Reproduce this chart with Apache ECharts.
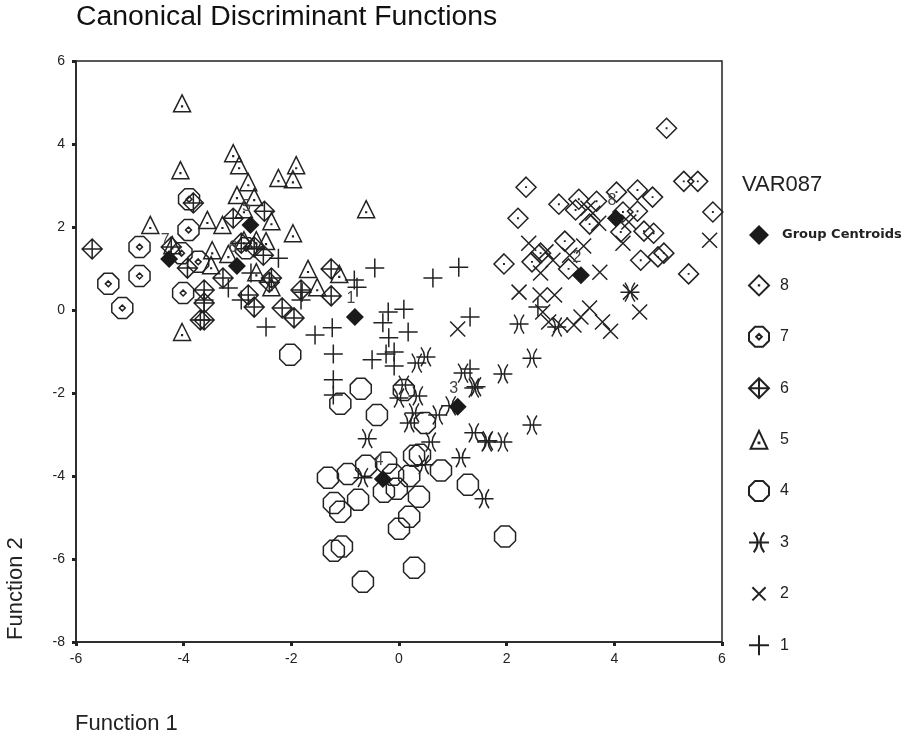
<!DOCTYPE html>
<html><head><meta charset="utf-8">
<style>html,body{margin:0;padding:0;background:#fff}#c{width:912px;height:736px}</style>
<script src="https://cdn.jsdelivr.net/npm/echarts@6/dist/echarts.min.js"></script>
</head><body><div id="c"></div>
<script>
const group1=[[-2.24,1.25],[-3.17,.53],[-2.93,.24],[-1.82,.24],[-3.62,.24],[-2.75,.89],[-2.47,-.41],[-1.56,-.6],[-1.24,-.43],[-.83,.72],[-.78,.55],[-.2,-.05],[.09,.02],[1.32,-.17],[-.3,-.31],[.17,-.53],[-.19,-.67],[-1.22,-1.06],[-.5,-1.2],[-.24,-1.06],[-.09,-1.01],[-.09,-1.35],[-1.22,-1.68],[-1.22,-2.05],[1.32,-1.42],[-.45,1.01],[.63,.77],[1.11,1.03],[2.58,.07],[-1.8,.43]];
const group2=[[5.77,1.68],[2.41,1.61],[2.73,1.4],[3.43,1.54],[3.17,1.32],[4.16,1.61],[3.71,2.09],[4.27,2.12],[3.6,2.33],[3.51,2.45],[2.63,.89],[2.23,.43],[2.62,.36],[2.89,.36],[3.73,.91],[4.3,.43],[4.47,-.05],[2.67,-.05],[3.54,.05],[3.38,-.17],[3.25,-.36],[3.78,-.29],[3.93,-.51],[2.86,1.2],[1.09,-.46],[3,-.36],[2.78,-.29]];
const group3=[[2.23,-.34],[2.93,-.41],[.5,-1.13],[.33,-1.28],[2.47,-1.16],[1.93,-1.54],[1.19,-1.52],[1.43,-1.85],[1.39,-1.88],[.09,-1.81],[0,-2.12],[.35,-2.07],[.28,-2.48],[.72,-2.53],[.19,-2.72],[.96,-2.31],[2.47,-2.77],[-.59,-3.1],[.59,-3.18],[1.39,-2.96],[1.63,-3.18],[1.65,-3.15],[1.93,-3.18],[1.15,-3.56],[.46,-3.73],[1.58,-4.55],[-.67,-4.04],[4.29,.43]];
const group4=[[-2.02,-1.08],[-.71,-1.9],[-1.09,-2.26],[-.41,-2.53],[.09,-1.93],[.48,-2.72],[-.61,-3.75],[-.24,-3.68],[-.95,-3.95],[-1.32,-4.04],[-.11,-3.97],[.19,-4],[.78,-3.87],[.28,-3.51],[.39,-3.49],[1.28,-4.21],[-.28,-4.38],[-.04,-4.31],[-.76,-4.57],[.37,-4.5],[-1.21,-4.65],[-1.09,-4.86],[.19,-4.98],[0,-5.27],[-1.21,-5.8],[-1.06,-5.7],[1.97,-5.46],[.28,-6.21],[-.67,-6.55]];
const group5=[[-4.03,4.98],[-3.08,3.78],[-2.97,3.49],[-1.91,3.49],[-2.24,3.18],[-1.97,3.15],[-4.06,3.37],[-2.8,3.08],[-3.01,2.77],[-2.69,2.72],[-.61,2.43],[-2.88,2.43],[-3.56,2.17],[-3.28,2.05],[-4.62,2.05],[-2.37,2.14],[-1.97,1.85],[-2.47,1.66],[-3.47,1.44],[-3.17,1.35],[-3.49,1.08],[-1.69,.99],[-1.11,.87],[-1.52,.55],[-2.37,.55],[-4.03,-.53],[-2.65,.91],[-4.21,1.56],[-2.88,1.68],[-2.65,1.68]];
const group6=[[-5.7,1.47],[-3.82,2.58],[-3.08,2.21],[-2.5,2.38],[-2.93,1.61],[-2.52,1.32],[-3.93,1.01],[-3.27,.77],[-2.37,.77],[-3.62,.48],[-3.62,.17],[-2.8,.36],[-2.69,.07],[-2.17,.05],[-1.95,-.19],[-1.82,.48],[-1.26,.99],[-1.26,.34],[-3.62,-.24],[-4.23,1.52],[-2.41,.67],[-2.69,1.52],[-3.69,-.24]];
const group7=[[-3.9,2.67],[-3.91,1.93],[-4.82,1.52],[-4.82,.82],[-5.4,.63],[-5.14,.05],[-4.01,.41],[-3.73,1.16],[-4.04,1.37],[-2.84,1.49]];
const group8=[[4.97,4.38],[5.29,3.1],[5.55,3.1],[5.83,2.36],[2.36,2.96],[2.21,2.21],[2.97,2.55],[3.34,2.67],[3.28,2.41],[3.67,2.62],[4.04,2.84],[4.43,2.89],[4.71,2.72],[4.16,2.36],[4.43,2.38],[3.54,2.07],[4.12,1.88],[4.55,1.9],[4.73,1.85],[3.08,1.66],[2.47,1.16],[1.95,1.11],[3.15,.99],[4.49,1.2],[4.81,1.28],[4.92,1.37],[5.38,.87],[2.63,1.37]];
const centroidValues=[[-.82,-.17],[3.38,.84],[1.09,-2.33],[-.3,-4.07],[-2.76,2.05],[-3.01,1.06],[-4.27,1.23],[4.03,2.21]];
const centroidNames=['1','2','3','4','5','6','7','8'];
const seriesNames=['1','2','3','4','5','6','7','8'];
const legendOrder=['Group Centroids','8','7','6','5','4','3','2','1'];
const xTicks=[-6,6,2], yTicks=[-8,6,2];
const titleText='Canonical Discriminant Functions', legendTitle='VAR087', xName='Function 1', yName='Function 2';

const ink='#222';
const FONT='Liberation Sans';
const OCT='M30 0L70 0L100 30L100 70L70 100L30 100L0 70L0 30Z';
const DIA='M50 0L100 50L50 100L0 50Z';
const symbols={
 '1':{p:'M50 0L50 100M0 50L100 50',s:[19,19]},
 '2':{p:'M0 0L100 100M100 0L0 100',s:[15,15]},
 '3':{p:'M0 50L100 50M24 0Q62 50 24 100M76 0Q38 50 76 100',s:[19,19]},
 '4':{p:OCT,s:[21,21]},
 '5':{p:'M50 0L100 100L0 100ZM48 66L52 66L52 70L48 70Z',s:[17,17]},
 '6':{p:DIA+'M50 0L50 100M0 50L100 50',s:[20,20]},
 '7':{p:OCT+'M50 36L64 50L50 64L36 50Z',s:[21,21]},
 '8':{p:DIA+'M49 49L51 49L51 51L49 51Z',s:[20,20]}
};
const legendIcons={'2':'path://M17 17L83 83M83 17L17 83M0 0L0 0M100 100L100 100','5':'path://M50 6L92 96L8 96ZM48 64L52 64L52 68L48 68ZM0 0L0 0M100 100L100 100'};
const groups={'1':group1,'2':group2,'3':group3,'4':group4,'5':group5,'6':group6,'7':group7,'8':group8};
const series=seriesNames.map(n=>({
 name:n,type:'scatter',data:groups[n],symbol:'path://'+symbols[n].p,symbolSize:symbols[n].s,symbolKeepAspect:false,
 itemStyle:{color:'rgba(0,0,0,0)',borderColor:ink,borderWidth:1.5,opacity:1},
 emphasis:{disabled:true},silent:true,animation:false
}));
series.push({
 name:'Group Centroids',type:'scatter',symbol:'diamond',symbolSize:[18,18],z:5,animation:false,silent:true,
 data:centroidValues.map((v,i)=>({value:v,name:centroidNames[i]})),
 itemStyle:{color:'#1a1a1a',opacity:1},
 label:{show:true,formatter:p=>p.name,position:'top',distance:1,offset:[-4,0],color:'#444',fontFamily:FONT,fontSize:16}
});
const chart=echarts.init(document.getElementById('c'),null,{renderer:'canvas'});
chart.setOption({
 animation:false,backgroundColor:'#fff',
 title:[
  {text:titleText,left:76,top:3,padding:0,textStyle:{fontFamily:FONT,fontSize:28.4,fontWeight:'normal',color:'#111'}},
  {text:legendTitle,left:742,top:174,padding:0,textStyle:{fontFamily:FONT,fontSize:22,fontWeight:'normal',color:'#222'}}
 ],
 grid:{left:76,right:190,top:61,bottom:94,show:true,borderColor:ink,borderWidth:1.5,backgroundColor:'#fff',outerBoundsMode:'none'},
 legend:{
  show:true,orient:'vertical',left:748,top:225,padding:0,itemWidth:20,itemHeight:20,itemGap:29.4,itemStyle:{},
  data:legendOrder.map(n=>legendIcons[n]?{name:n,icon:legendIcons[n]}:{name:n}),
  formatter:n=>n.length>1?'{g|'+n+'}':'{n|'+n+'}',
  textStyle:{padding:[0,0,0,6],rich:{
   g:{fontFamily:'DejaVu Sans',fontSize:13,fontWeight:'bold',color:'#222',padding:[0,0,0,2]},
   n:{fontFamily:FONT,fontSize:16,color:'#222'}
  }},selectedMode:false
 },
 xAxis:{type:'value',min:xTicks[0],max:xTicks[1],interval:xTicks[2],splitLine:{show:false},
  axisLine:{show:true,onZero:false,lineStyle:{color:ink,width:1.5}},
  axisTick:{show:true,length:4,lineStyle:{color:ink,width:3}},
  axisLabel:{margin:10,fontFamily:FONT,fontSize:14,color:'#222',hideOverlap:false,showMinLabel:true,showMaxLabel:true}},
 yAxis:{type:'value',min:yTicks[0],max:yTicks[1],interval:yTicks[2],splitLine:{show:false},
  axisLine:{show:true,onZero:false,lineStyle:{color:ink,width:1.5}},
  axisTick:{show:true,length:4,lineStyle:{color:ink,width:3}},
  axisLabel:{margin:11,fontFamily:FONT,fontSize:14,color:'#222',hideOverlap:false,showMinLabel:true,showMaxLabel:true}},
 graphic:[
  {type:'text',x:75,y:724,style:{text:xName,fontFamily:FONT,fontSize:22,fill:'#222',textAlign:'left',textVerticalAlign:'middle'}},
  {type:'text',x:16,y:640,rotation:Math.PI/2,style:{text:yName,fontFamily:FONT,fontSize:22,fill:'#222',textAlign:'left',textVerticalAlign:'middle'}}
 ],
 series:series
});
</script></body></html>
